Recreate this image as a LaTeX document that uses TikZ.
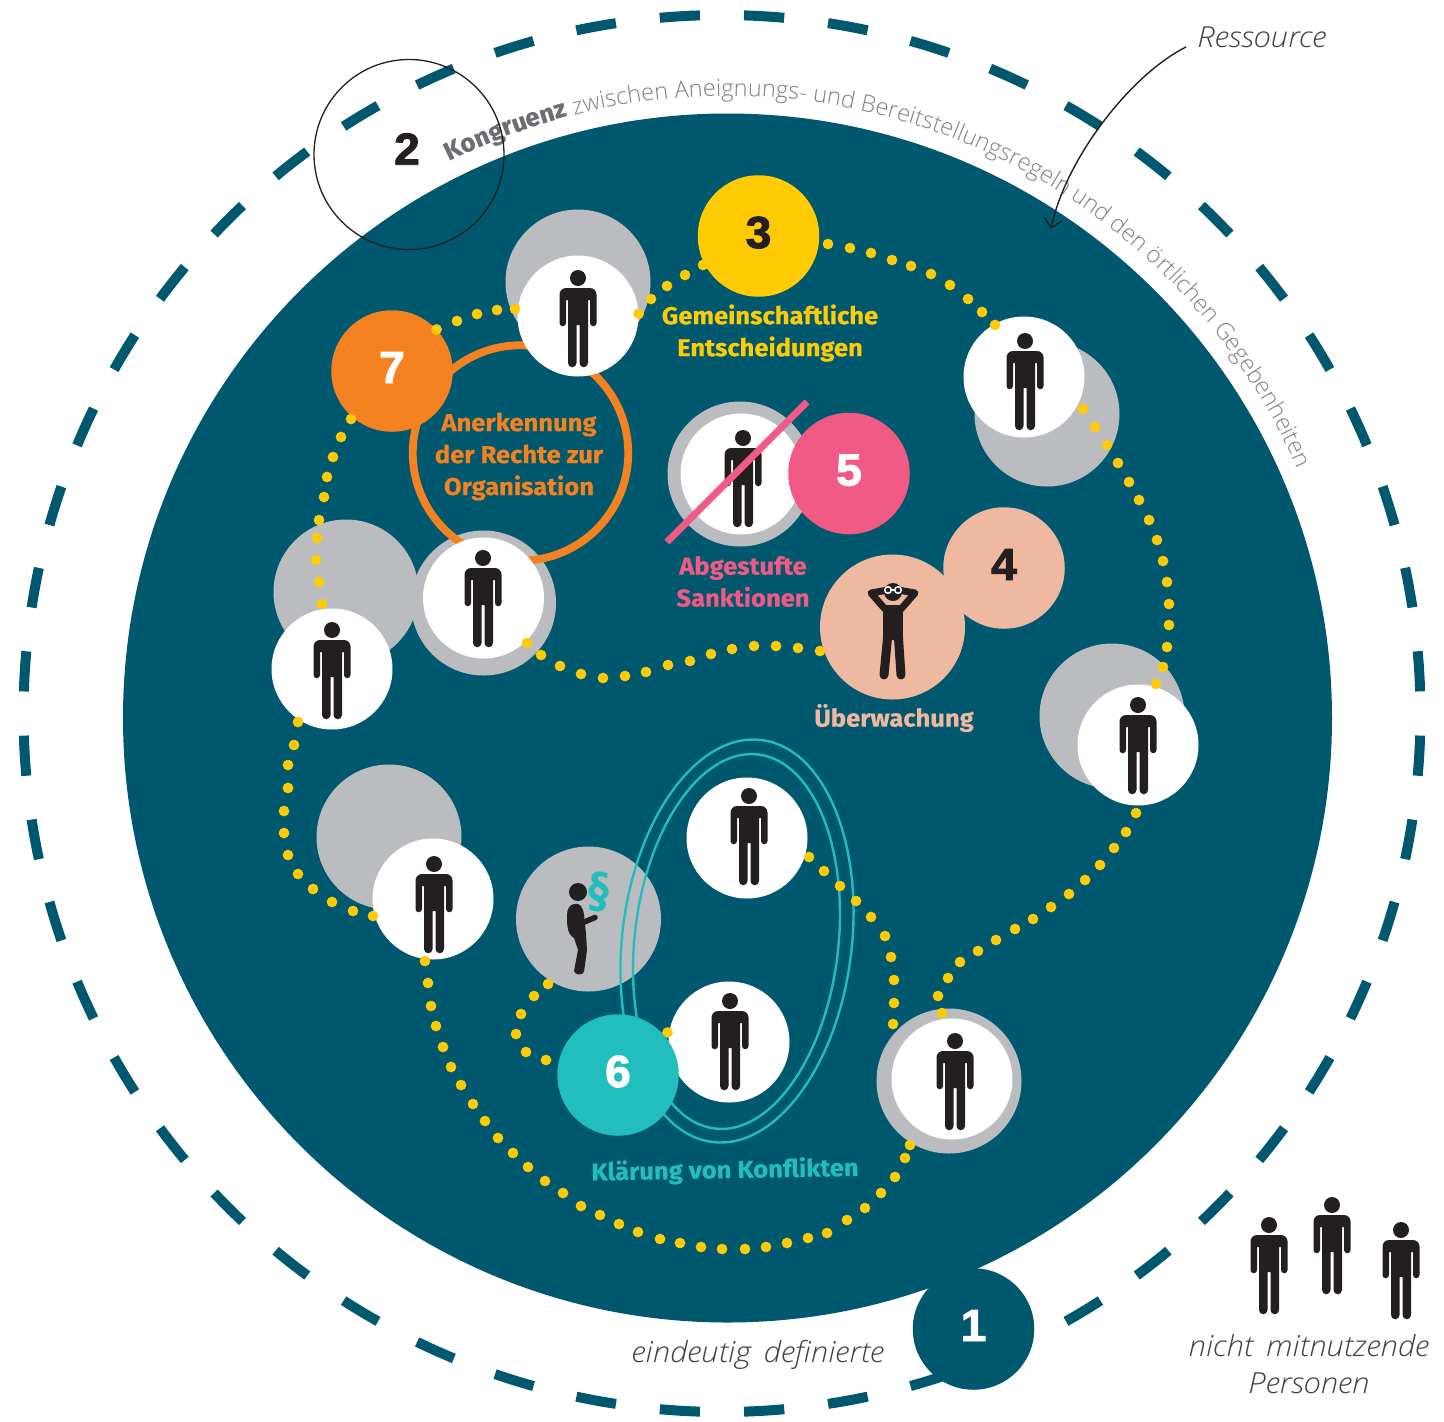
\documentclass[tikz,border=0pt]{standalone}
\usepackage{fontspec}
\setmainfont{Fira Sans}[BoldFont={Fira Sans ExtraBold}]
\newfontfamily\thinfont{Open Sans Light}
\newfontfamily\thinit{Open Sans Light Italic}[FakeStretch=1.07]
\newfontfamily\labfont{Fira Sans Bold}[FakeStretch=1.048,FakeBold=0.4]
\newfontfamily\numfont{Liberation Sans Bold}[FakeBold=2,FakeStretch=1.03]
\usetikzlibrary{decorations.text,arrows.meta}
\definecolor{ring}{HTML}{00586F}
\definecolor{gelb}{HTML}{FFCB05}
\definecolor{orng}{HTML}{F58220}
\definecolor{pinkc}{HTML}{F15A85}
\definecolor{peach}{HTML}{EFB8A0}
\definecolor{tealc}{HTML}{21BEBD}
\definecolor{ink}{HTML}{231F20}
\definecolor{greyc}{HTML}{BBBCBF}
\definecolor{kg}{HTML}{6D6E71}
\definecolor{kl}{HTML}{808285}
\definecolor{thinc}{HTML}{414042}
\newcommand\kbold{\bfseries\fontsize{25.6}{30}\selectfont}
\newcommand\klight{\thinfont\fontsize{23.6}{30}\selectfont}
\tikzset{
  greydisc/.style={circle,fill=greyc,minimum size=145pt,inner sep=0pt},
  whitedisc/.style={circle,fill=white,minimum size=121pt,inner sep=0pt},
  numdisc/.style={circle,minimum size=121.5pt,inner sep=0pt,font=\numfont\fontsize{45}{45}\selectfont,text height=32pt,text depth=8pt},
  lab/.style={align=center,font=\labfont\fontsize{24.4}{32}\selectfont,inner sep=0pt},
  thin/.style={align=center,font=\thinit\fontsize{29}{37}\selectfont,text=thinc,inner sep=0pt},
  dotline/.style={mark=*,mark size=5pt,mark options={solid,draw=gelb,fill=gelb,line width=0.6pt},only marks},
  ringdash/.style={draw=ring,line width=10pt},
  ell/.style={draw=tealc,line width=2.4pt},
  person/.pic={
    \fill[ink] (0,0) circle[radius=8];
    \fill[ink] (-12,10) arc[start angle=270,end angle=180,radius=6.5]
      -- (-18.5,45) arc[start angle=180,end angle=0,radius=3.25]
      -- (-12,22) -- (-10,22) -- (-10,85) arc[start angle=180,end angle=0,radius=4.25]
      -- (-1.5,47) -- (1.5,47) -- (1.5,85) arc[start angle=180,end angle=0,radius=4.25]
      -- (10,22) -- (12,22) -- (12,45) arc[start angle=180,end angle=0,radius=3.25]
      -- (18.5,16.5) arc[start angle=0,end angle=-90,radius=6.5] -- cycle;
  },
}
\begin{document}
\begin{tikzpicture}[x=1pt,y=-1pt]
\useasboundingbox (0,0) rectangle (1444,1422);
\fill[white] (0,0) rectangle (1444,1422);
% dashed outer ring
\foreach \i in {0,...,51} {
  \pgfmathsetmacro\a{3.4615+6.923*\i-1.65}
  \draw[ringdash] ({722+698.5*cos(\a)},{713.5+698.5*sin(\a)}) arc[start angle=\a,delta angle=3.3,radius=698.5];
}
% resource disc
\fill[ring] (727.5,718) circle[radius=604.5];
% curved title
\path[decorate,decoration={text along path,text align=left,
  text={|\color{kg}\kbold|Kongruenz|||\color{kl}\klight| zwischen Aneignungs- und Bereitstellungsregeln und den örtlichen Gegebenheiten}}]
  ({727.5+622*cos(-116.5)},{718+622*sin(-116.5)}) arc[start angle=-116.5,end angle=-10,radius=622];
% circle 2
\node[circle,draw=ink,line width=1.3pt,minimum size=190pt,inner sep=0pt] (n2) at (409,154.5) {};
\node[font=\numfont\fontsize{45}{45}\selectfont,text=ink,inner sep=0pt] (n2t) at (407,149) {2};
% grey discs
\node[greydisc] (g1) at (578,282) {};
\node[greydisc] (g2) at (1047,414) {};
\node[greydisc] (g3) at (740,474) {};
\node[greydisc] (g5) at (1112,716) {};
\node[greydisc] (g6) at (483.5,603) {};
\node[greydisc] (g7) at (346,592) {};
\node[greydisc] (g8) at (389,837) {};
\node[greydisc] (g9) at (588.5,919) {};
\node[greydisc] (g12) at (949,1081) {};
% orange ring
\node[circle,draw=orng,line width=7.8pt,minimum size=215.5pt,inner sep=0pt] (oring) at (520.5,453) {};
% white discs
\node[whitedisc] (p1) at (578,316) {};
\node[whitedisc] (p2) at (1024,377) {};
\node[whitedisc] (p3) at (741,474) {};
\node[whitedisc] (p5) at (1138,745) {};
\node[whitedisc] (p6) at (483.5,598) {};
\node[whitedisc] (p7) at (332,669) {};
\node[whitedisc] (p8) at (433,899) {};
\node[whitedisc] (p10) at (747,838) {};
\node[whitedisc] (p11) at (729,1042) {};
\node[whitedisc] (p12) at (952,1079) {};
% observer disc
\node[circle,fill=peach,minimum size=145pt,inner sep=0pt] (obs) at (892.5,627) {};
% number discs
\node[numdisc,fill=gelb,text=ink] (n3) at (758.5,236) {3};
\node[numdisc,fill=orng,text=white] (n7) at (392,371) {7};
\node[numdisc,fill=peach,text=ink] (n4) at (1004,568) {4};
\node[numdisc,fill=ring,text=white] (n1) at (973.5,1329) {1};
% persons
\foreach \x/\y in {578/278,1025/341,743/438,1138/705,483/558,332/630,434/864,749/796,730/1001,955/1041,1269/1225,1332/1205,1401/1230}
  \pic at (\x,\y) {person};
% sanction slash and disc 5
\draw[draw=pinkc,line width=7pt] (667,542) -- (807,402);
\node[numdisc,fill=pinkc,text=white] (n5) at (849,473.5) {5};
% observer figure
\fill[ink] (893,592) circle[radius=9];
\fill[ink] (883,605) -- (903,605) -- (903,640) -- (883,640) -- cycle;
\draw[ink,line width=9pt,line cap=round] (887.5,638) -- (884,675);
\draw[ink,line width=9pt,line cap=round] (898.5,638) -- (901,675);
\draw[ink,line width=7pt,line cap=round,line join=round] (885,609) -- (871,593) -- (888,590);
\draw[ink,line width=7pt,line cap=round,line join=round] (901,609) -- (915,593) -- (898,590);
\draw[white,line width=1.5pt] (888,590) circle[radius=3.3] (898,590) circle[radius=3.3];
\draw[white,line width=1.5pt] (891,590) -- (895,590);
% paragraph figure
\fill[ink] (578,892) circle[radius=9];
\fill[ink] (574,904) .. controls (580,902) and (583,908) .. (584,914) -- (586,934) -- (587,950) -- (584,972)
  .. controls (582,976) and (575,975) .. (574,971) -- (578,950) -- (574,938)
  .. controls (567,934) and (567,925) .. (567,915) .. controls (567,908) and (570,905) .. (574,904) -- cycle;
\draw[ink,line width=5.5pt,line cap=round] (582,923) -- (595,917.5);
\node[text=tealc,font=\fontspec{DejaVu Sans}\bfseries\fontsize{48}{48}\selectfont,inner sep=0pt,rotate=-5,xscale=0.85] (para) at (599,892) {§};
% conflict ellipses
\draw[ell,rotate around={-6.9:(737,941)}] (737,941) ellipse[x radius=114.8,y radius=202.5];
\draw[ell,rotate around={-6.5:(736.5,941.5)}] (736.5,941.5) ellipse[x radius=101.9,y radius=188.3];
% dotted tracks
\draw plot[dotline] coordinates {(n7.43) (457,321) (477,314) (497,310) (515,309)};
\draw plot[dotline] coordinates {(p1.2) (651,299) (667,286) (685,275) (703,265)};
\draw plot[dotline] coordinates {(828,244) (850,248) (871,253) (892,260) (911,266) (931,274) (950,285) (968,299) (982,312) (995,325)};
\draw plot[dotline] coordinates {(1083,409) (1095,427) (1107,445) (1118,463) (1129,482) (1139,500) (1149,520) (1157,540) (1163,561) (1167,582) (1169,604) (1169,625) (1167,647) (1163,667) (1156,684)};
\draw plot[dotline] coordinates {(1136,813) (1126,832) (1114,848) (1100,865) (1085,880) (1069,894) (1051,907) (1033,919) (1015,929) (996,940) (978,951) (960,962) (948,978) (938,996) (942,1013)};
\draw plot[dotline] coordinates {(893,1024) (894,1003) (894,980) (891,957) (885,936) (871,917) (856,901) (840,886) (824,871) (809,857)};
\draw plot[dotline] coordinates {(910,1145) (905,1158) (895,1177) (881,1193) (865,1208) (847,1220) (827,1233) (808,1238) (787,1243) (766,1247) (745,1249) (722,1249) (701,1247) (680,1243) (660,1239) (638,1232) (619,1224) (600,1215) (581,1206) (563,1193) (545,1181) (528,1167) (513,1153) (498,1138) (485,1121) (473,1104) (461,1085) (451,1067) (443,1047) (436,1026) (431,1006) (428,983) (425,961)};
\draw plot[dotline] coordinates {(373,916) (353,911) (332,902) (313,889) (298,874) (288,855) (284,833) (284,811) (288,788) (288,765) (294,745) (298,722)};
\draw plot[dotline] coordinates {(322,604) (319,582) (316,560) (317,538) (319,520) (324,497) (327,477) (333,457) (341,437) (351,419)};
\draw plot[dotline] coordinates {(527,643) (541,655) (560,666) (581,674) (603,678) (625,676) (646,672) (668,665) (690,661) (711,654) (732,649) (754,646) (776,646) (798,648) (820,651)};
\draw plot[dotline] coordinates {(548,984) (534,996) (521,1014) (516,1034) (526,1052) (546,1060)};
\draw plot[dotline] coordinates {(667.5,1032.5)};
% disc 6
\node[numdisc,fill=tealc,text=white] (n6) at (618,1075) {6};
% labels
\node[lab,text=gelb] (l3) at (770,333) {Gemeinschaftliche\\Entscheidungen};
\node[lab,text=orng] (l7) at (519,456.5) {Anerkennung\\der Rechte zur\\Organisation};
\node[lab,text=pinkc] (l5) at (743,581.5) {Abgestufte\\Sanktionen};
\node[lab,text=peach] (l4) at (894,718) {Überwachung};
\node[lab,text=tealc,rotate=1] (l6) at (725,1171) {Klärung von Konflikten};
\node[thin] (tres) at (1262,37) {Ressource};
\node[thin] (tdef) at (758,1355) {eindeutig\, definierte};
\node[thin] (tnon) at (1309,1364.5) {nicht\, mitnutzende\\Personen};
% arrow
\coordinate (astart) at (1186,47);
\coordinate (atip) at (1051,229);
\draw[ink,line width=1.4pt,-{Straight Barb[length=9pt,width=18pt]}] (astart) .. controls (1130,75) and (1065,160) .. (atip);
\end{tikzpicture}
\end{document}
